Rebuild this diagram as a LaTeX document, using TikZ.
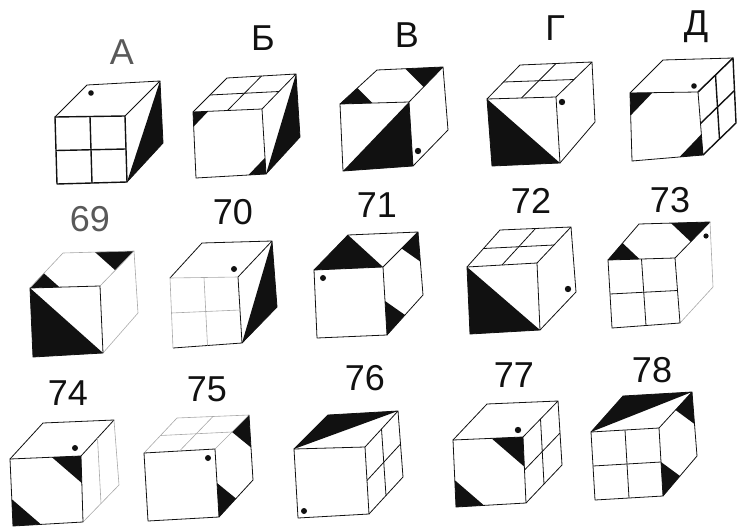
\documentclass[tikz,border=0pt]{standalone}
\usepackage{fontspec}
\setmainfont{Liberation Sans}
\usetikzlibrary{calc}
\definecolor{cubeInk}{HTML}{111111}
\definecolor{cubeFaint}{HTML}{A8A8A8}

% corners of one cube: front TL, TR, BR, BL, back TL, TR, BR
\newcommand{\cubepts}[7]{
    \coordinate (ftl) at (#1); \coordinate (ftr) at (#2);
    \coordinate (fbr) at (#3); \coordinate (fbl) at (#4);
    \coordinate (btl) at (#5); \coordinate (btr) at (#6);
    \coordinate (bbr) at (#7);
}
% the three faces, outline only
\newcommand{\frontface}[1][]{\draw[edge,#1] (ftl) -- (ftr) -- (fbr) -- (fbl) -- cycle;}
\newcommand{\topface}[1][]{\draw[edge,#1] (ftl) -- (btl) -- (btr) -- (ftr);}
\newcommand{\rightface}[1][]{\draw[edge,#1] (btr) -- (bbr) -- (fbr);}
% grids
\newcommand{\frontgrid}[1][]{
    \draw[edge,#1] ($(ftl)!.5!(ftr)$) -- ($(fbl)!.5!(fbr)$);
    \draw[edge,#1] ($(ftl)!.5!(fbl)$) -- ($(ftr)!.5!(fbr)$);
}
\newcommand{\topgrid}[1][]{
    \draw[edge,#1] ($(ftl)!.5!(ftr)$) -- ($(btl)!.5!(btr)$);
    \draw[edge,#1] ($(ftl)!.5!(btl)$) -- ($(ftr)!.5!(btr)$);
}
\newcommand{\rightgrid}[1][]{
    \draw[edge,#1] ($(ftr)!.5!(btr)$) -- ($(fbr)!.5!(bbr)$);
    \draw[edge,#1] ($(ftr)!.5!(fbr)$) -- ($(btr)!.5!(bbr)$);
}
% black triangle: apex #1, towards #2 and #3, fraction #4 of each edge
\newcommand{\tip}[4]{\fill[ink] (#1) -- ($(#1)!#4!(#2)$) -- ($(#1)!#4!(#3)$) -- cycle;}

\begin{document}
\begin{tikzpicture}[
    x=1pt, y=-1pt,
    edge/.style={draw=cubeInk, line width=0.8pt, line join=round},
    heavy/.style={line width=1.4pt},
    faint/.style={draw=cubeFaint, line width=0.6pt},
    ink/.style={fill=cubeInk},
    dot/.style={fill=cubeInk},
    numlabel/.style={font=\fontsize{36}{36}\selectfont, text=cubeInk, inner sep=0pt},
    palelabel/.style={numlabel, text=black!65}
]
\useasboundingbox (0,0) rectangle (739,527);

% Row 1: answer cubes
\node[palelabel] (lblA) at (122,52) {А};
\node[numlabel] (lblB) at (263,38) {Б};
\node[numlabel] (lblV) at (407,35) {В};
\node[numlabel] (lblG) at (555,28) {Г};
\node[numlabel] (lblD) at (696,27) {Д};

\cubepts{55,117}{125,116}{127,182}{57,184}{87,85}{160,81}{163,143}
\fill[ink] (btr) -- (bbr) -- (fbr) -- cycle;
\topface \rightface \frontface[heavy] \frontgrid[heavy]
\fill[dot] (91,93) circle (2.8);

\cubepts{193,112}{262,109}{266,174}{196,178}{227,78}{296,74}{300,137}
\fill[ink] (btr) -- (bbr) -- (fbr) -- cycle;
\tip{ftl}{ftr}{fbl}{.22}
\tip{fbr}{fbl}{ftr}{.25}
\topface \rightface \frontface \topgrid

\cubepts{340,104}{409,102}{413,166}{343,171}{377,70}{443,67}{448,130}
\fill[ink] (ftr) -- (fbr) -- (fbl) -- cycle;
\tip{ftl}{btl}{ftr}{.47}
\tip{btr}{btl}{ftr}{.57}
\topface \rightface \frontface
\fill[dot] (418,151) circle (3.2);

\cubepts{487,99}{556,97}{560,163}{492,166}{520,65}{592,62}{595,122}
\fill[ink] (ftl) -- (fbl) -- (fbr) -- cycle;
\topface \rightface \frontface \topgrid
\fill[dot] (562,102) circle (3.2);

\cubepts{630,93}{698,92}{703,155}{632,161}{663,60}{733,58}{736,123}
\tip{ftl}{ftr}{fbl}{.33}
\tip{fbr}{fbl}{ftr}{.33}
\topface \frontface \draw[edge,heavy] (ftr) -- (btr) -- (bbr) -- (fbr); \rightgrid[heavy]
\fill[dot] (694,86) circle (2.8);

% Row 2: cubes 69 to 73
\node[palelabel] (lbl69) at (90,219) {69};
\node[numlabel] (lbl70) at (233,212) {70};
\node[numlabel] (lbl71) at (377,205) {71};
\node[numlabel] (lbl72) at (531,201) {72};
\node[numlabel] (lbl73) at (670,200) {73};

\cubepts{30,288}{100,286}{103,353}{33,357}{63,253}{134,251}{138,313}
\fill[ink] (ftl) -- (fbl) -- (fbr) -- cycle;
\tip{ftl}{btl}{ftr}{.42}
\tip{btr}{btl}{ftr}{.55}
\topface[faint] \rightface[faint] \frontface

\cubepts{170,278}{238,277}{242,343}{173,348}{202,243}{272,241}{277,307}
\fill[ink] (btr) -- (bbr) -- (fbr) -- cycle;
\topface \rightface \draw[edge] (ftr) -- (fbr) -- (fbl);
\draw[edge,faint] (fbl) -- (ftl) -- (ftr);
\frontgrid[faint]
\fill[dot] (234,269) circle (3);

\cubepts{314,270}{383,267}{387,335}{317,338}{348,235}{418,232}{423,295}
\fill[ink] (ftl) -- (btl) -- (ftr) -- cycle;
\tip{btr}{bbr}{ftr}{.47}
\tip{fbr}{ftr}{bbr}{.5}
\topface \rightface \frontface
\fill[dot] (323,278) circle (3);

\cubepts{467,267}{537,263}{540,330}{470,334}{500,230}{571,227}{576,292}
\fill[ink] (ftl) -- (fbl) -- (fbr) -- cycle;
\topface \rightface \frontface \topgrid
\fill[dot] (568,289) circle (3.2);

\cubepts{608,260}{675,258}{680,323}{612,328}{639,224}{710,222}{713,287}
\tip{ftl}{btl}{ftr}{.47}
\tip{btr}{btl}{ftr}{.55}
\topface \rightface[faint] \frontface \frontgrid
\fill[dot] (706,236) circle (2.6);

% Row 3: cubes 74 to 78
\node[numlabel] (lbl74) at (68,393) {74};
\node[numlabel] (lbl75) at (207,389) {75};
\node[numlabel] (lbl76) at (365,378) {76};
\node[numlabel] (lbl77) at (514,375) {77};
\node[numlabel] (lbl78) at (652,370) {78};

\cubepts{10,459}{81,456}{83,522}{13,526}{43,423}{114,420}{119,485}
\tip{ftr}{ftl}{fbr}{.41}
\tip{fbl}{ftl}{fbr}{.4}
\topface \rightface[faint] \frontface
\draw[edge,faint] ($(ftr)!.5!(btr)$) -- ($(fbr)!.5!(bbr)$);
\fill[dot] (75,448) circle (3);

\cubepts{144,453}{215,449}{219,517}{148,521}{177,418}{249,415}{253,480}
\tip{btr}{bbr}{ftr}{.5}
\tip{fbr}{ftr}{bbr}{.5}
\topface[faint] \rightface \frontface \topgrid[faint]
\fill[dot] (208,458) circle (3);

\cubepts{294,449}{365,447}{369,514}{298,518}{328,415}{398,411}{403,477}
\fill[ink] (ftl) -- (btl) -- (btr) -- cycle;
\topface \rightface \frontface \rightgrid
\fill[dot] (304,511) circle (3);

\cubepts{453,440}{523,437}{526,503}{456,507}{487,404}{558,401}{562,465}
\tip{ftr}{ftl}{fbr}{.45}
\tip{fbl}{ftl}{fbr}{.4}
\topface \rightface \frontface \rightgrid
\fill[dot] (518,430) circle (3.2);

\cubepts{591,432}{659,428}{663,496}{595,500}{623,396}{692,392}{697,456}
\fill[ink] (ftl) -- (btl) -- (btr) -- cycle;
\tip{btr}{bbr}{ftr}{.5}
\tip{fbr}{ftr}{bbr}{.5}
\topface \rightface \frontface \frontgrid

\end{tikzpicture}
\end{document}
